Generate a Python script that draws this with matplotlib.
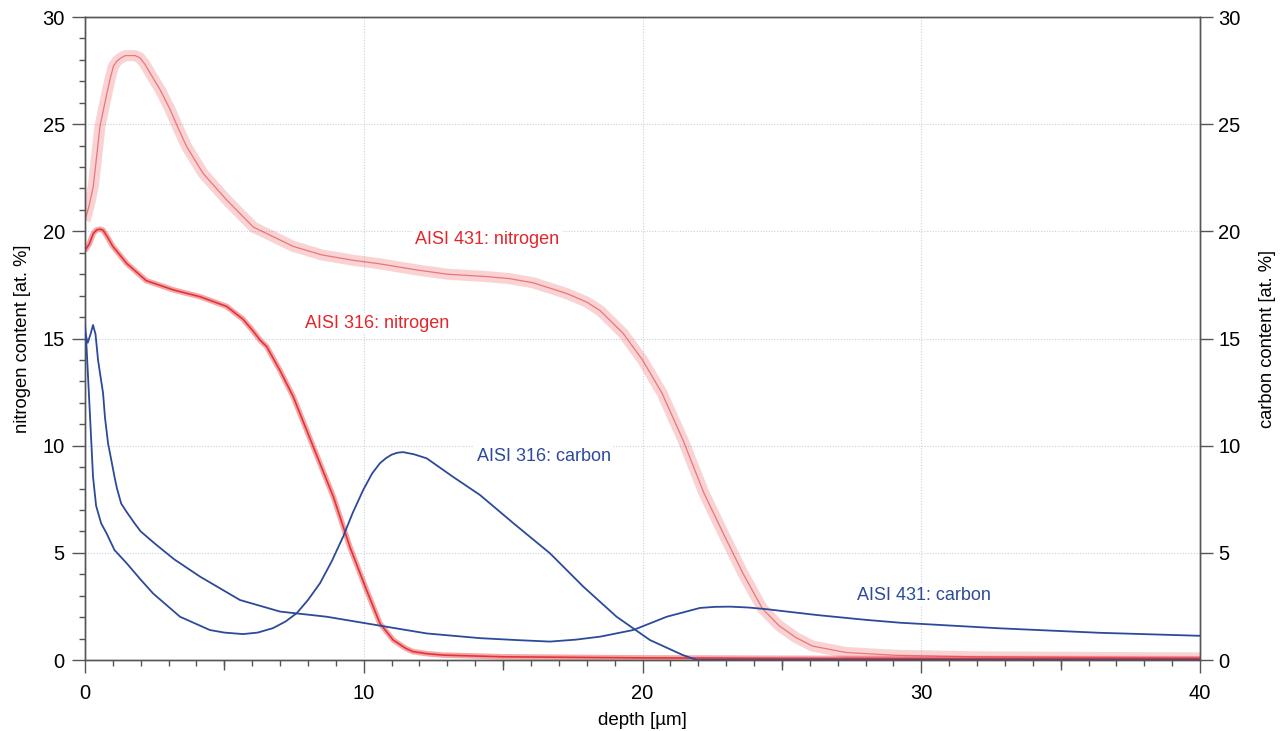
import numpy as np
import matplotlib.pyplot as plt
from matplotlib.ticker import MultipleLocator, FixedLocator

plt.rcParams['font.family'] = ['Liberation Sans', 'DejaVu Sans']

# AISI 431 nitrogen (upper red band)
depth_431n = [0, 0.15, 0.3, 0.54, 0.78, 0.9, 1.02, 1.15, 1.3, 1.45, 1.6, 1.8, 1.97, 2.15, 2.33,
              2.7, 3.05, 3.35, 3.65, 4.24, 5.08, 6.04, 7.47, 8.5, 9.62, 10.5, 11.9, 13.0, 14.3,
              15.2, 16.08, 17.28, 18.0, 18.48, 19.3, 20.0, 20.7, 21.45, 22.2, 22.9, 23.6, 24.3,
              24.9, 25.5, 26.1, 27.3, 29.1, 32, 36, 40]
n_431 = [20.5, 21.2, 22.1, 24.9, 26.4, 27.1, 27.7, 27.95, 28.1, 28.2, 28.2, 28.2, 28.1, 27.8, 27.4,
         26.6, 25.7, 24.8, 23.95, 22.7, 21.47, 20.2, 19.3, 18.9, 18.65, 18.5, 18.2, 18.0, 17.9,
         17.8, 17.6, 17.1, 16.7, 16.3, 15.25, 14.0, 12.45, 10.27, 7.8, 5.9, 4.05, 2.4,
         1.6, 1.05, 0.65, 0.35, 0.22, 0.15, 0.12, 0.1]

# AISI 316 nitrogen (lower red band)
depth_316n = [0, 0.15, 0.3, 0.42, 0.55, 0.65, 0.8, 1.0, 1.5, 2.2, 3.17, 4.13, 5.08, 5.67, 6.0,
              6.28, 6.52, 7.0, 7.47, 8.19, 8.91, 9.5, 10.1, 10.58, 11.06, 11.5, 11.77, 12.3,
              12.85, 15, 20, 25, 30, 40]
n_316 = [19.1, 19.4, 19.9, 20.07, 20.1, 20.05, 19.75, 19.3, 18.5, 17.7, 17.27, 16.95, 16.5, 15.9,
         15.4, 14.93, 14.62, 13.5, 12.29, 9.95, 7.62, 5.29, 3.27, 1.71, 0.93, 0.55, 0.39, 0.29,
         0.23, 0.15, 0.1, 0.08, 0.07, 0.06]

# AISI 316 carbon
depth_316c = [0, 0.05, 0.17, 0.29, 0.4, 0.58, 0.78, 1.06, 1.5, 2.0, 2.45, 3.41, 4.48, 5.0, 5.67,
              6.2, 6.75, 7.2, 7.6, 8.0, 8.43, 8.85, 9.26, 9.6, 9.98, 10.3, 10.58, 10.8, 11.0,
              11.2, 11.41, 11.8, 12.26, 13.2, 14.17, 15.4, 16.68, 17.88, 19.07, 20.27, 21.45,
              21.95, 40]
c_316 = [15.7, 14.8, 11.7, 8.55, 7.2, 6.38, 5.9, 5.13, 4.51, 3.75, 3.1, 2.02, 1.4, 1.28, 1.21,
         1.28, 1.49, 1.8, 2.19, 2.8, 3.58, 4.6, 5.75, 6.85, 7.93, 8.7, 9.18, 9.42, 9.58,
         9.67, 9.7, 9.6, 9.41, 8.55, 7.7, 6.35, 4.98, 3.42, 2.02, 0.93, 0.23,
         0.0, 0.0]

# AISI 431 carbon
depth_431c = [0, 0.1, 0.2, 0.29, 0.38, 0.47, 0.55, 0.65, 0.72, 0.83, 0.95, 1.06, 1.15, 1.3, 1.5,
              1.78, 2.0, 2.5, 3.2, 4.13, 5.56, 7.0, 8.67, 10.46, 12.26, 14.17, 15.5, 16.68, 17.6,
              18.48, 19.67, 20.87, 22.06, 22.6, 23.14, 23.8, 24.46, 26.25, 28.04, 29.24, 32.8,
              36.4, 40]
c_431 = [15.3, 14.8, 15.2, 15.63, 15.2, 14.0, 13.3, 12.45, 11.3, 10.1, 9.3, 8.55, 8.0, 7.3, 6.9,
         6.38, 6.0, 5.44, 4.7, 3.89, 2.8, 2.26, 2.02, 1.63, 1.24, 1.02, 0.93, 0.86, 0.95,
         1.09, 1.4, 2.02, 2.43, 2.48, 2.49, 2.45, 2.37, 2.1, 1.87, 1.74, 1.48,
         1.27, 1.13]

red = '#e3262b'
blue = '#2c4a9a'
grid_c = '#c9d2e3'
axis_c = '#555555'

fig = plt.figure(figsize=(12.85, 7.31), dpi=100)
ax = fig.add_axes([0.0661, 0.0971, 0.8678, 0.8796])
ax2 = ax.twinx()

ax.set_xlim(0, 40)
ax.set_ylim(0, 30)
ax2.set_ylim(0, 30)

# grid
for gx in [10, 20, 30]:
    ax.axvline(gx, color=grid_c, lw=0.8, ls=(0, (1, 1.5)), zorder=0)
for gy in [5, 10, 15, 20, 25]:
    ax.axhline(gy, color=grid_c, lw=0.8, ls=(0, (1, 1.5)), zorder=0)

# nitrogen (left axis)
ax.plot(depth_431n, n_431, color=red, lw=8, alpha=0.2, solid_capstyle='butt',
        solid_joinstyle='round', zorder=2)
ax.plot(depth_431n, n_431, color=red, lw=0.9, alpha=0.55, zorder=3)
ax.plot(depth_316n, n_316, color=red, lw=4, alpha=0.4, solid_capstyle='butt',
        solid_joinstyle='round', zorder=2)
ax.plot(depth_316n, n_316, color=red, lw=1.2, alpha=0.9, zorder=3)

# carbon (right axis)
ax2.plot(depth_316c, c_316, color=blue, lw=1.3, zorder=3)
ax2.plot(depth_431c, c_431, color=blue, lw=1.3, zorder=3)

lbl_box = dict(facecolor='white', edgecolor='none', pad=1.5)
ax.text(11.85, 19.6, 'AISI 431: nitrogen', color=red, fontsize=13, va='center', bbox=lbl_box, zorder=1)
ax.text(7.9, 15.7, 'AISI 316: nitrogen', color=red, fontsize=13, va='center', bbox=lbl_box, zorder=1)
ax.text(14.05, 9.5, 'AISI 316: carbon', color=blue, fontsize=13, va='center', bbox=lbl_box, zorder=1)
ax.text(27.7, 3.03, 'AISI 431: carbon', color=blue, fontsize=13, va='center', bbox=lbl_box, zorder=1)

# axes styling
for a in (ax, ax2):
    for s in a.spines.values():
        s.set_color(axis_c)
        s.set_linewidth(1.0)

ax.xaxis.set_major_locator(MultipleLocator(10))
ax.xaxis.set_minor_locator(MultipleLocator(1))
ax.yaxis.set_major_locator(MultipleLocator(5))
ax.yaxis.set_minor_locator(MultipleLocator(1))
ax.tick_params(axis='both', which='major', direction='out', length=9.5, width=1.0,
               color=axis_c, labelsize=14.5, pad=5)
ax.tick_params(axis='x', which='major', pad=8)
ax.tick_params(axis='both', which='minor', direction='out', length=4.5, width=1.0, color=axis_c)
ax.tick_params(axis='y', which='both', right=False)

# medium ticks at the fives
sec = ax.secondary_xaxis('bottom')
sec.xaxis.set_major_locator(FixedLocator([5, 15, 25, 35]))
sec.tick_params(length=7, width=1.0, color=axis_c, labelbottom=False)
sec.spines['bottom'].set_visible(False)

ax2.yaxis.set_major_locator(MultipleLocator(5))
ax2.tick_params(axis='y', which='major', direction='out', length=9, width=1.0,
                color=axis_c, labelsize=14.5, pad=4)

ax.set_xlabel('depth [µm]', fontsize=13.5, labelpad=6)
ax.set_ylabel('nitrogen content [at. %]', fontsize=13.2, labelpad=8)
ax2.set_ylabel('carbon content [at. %]', fontsize=13.2, labelpad=13)

fig.savefig('out.png', dpi=100)
